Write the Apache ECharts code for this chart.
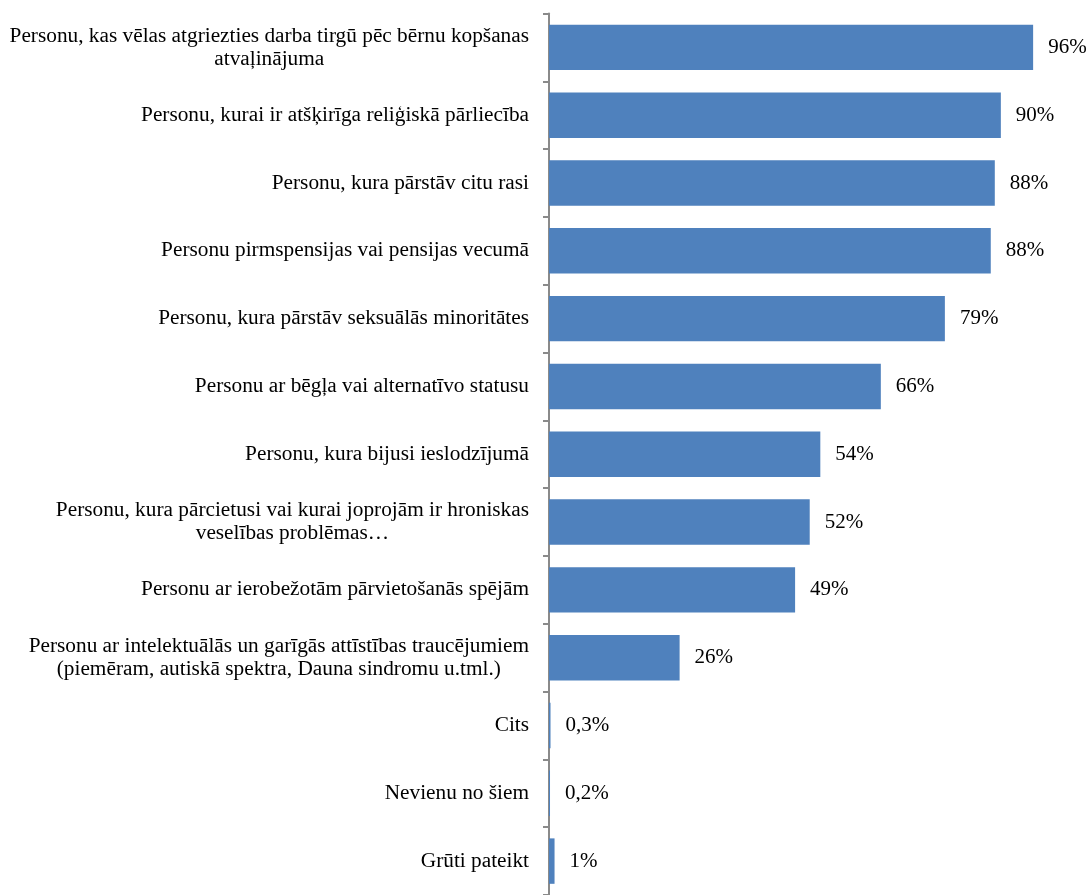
<!DOCTYPE html>
<html>
<head>
<meta charset="utf-8">
<script src="https://cdn.jsdelivr.net/npm/echarts@6/dist/echarts.min.js"></script>
<style>
html,body{margin:0;padding:0;background:#fff;}
#chart{width:1088px;height:895px;}
</style>
</head>
<body>
<div id="chart"></div>
<script>
const categories = [
  'Personu, kas vēlas atgriezties darba tirgū pēc bērnu kopšanas\natvaļinājuma',
  'Personu, kurai ir atšķirīga reliģiskā pārliecība',
  'Personu, kura pārstāv citu rasi',
  'Personu pirmspensijas vai pensijas vecumā',
  'Personu, kura pārstāv seksuālās minoritātes',
  'Personu ar bēgļa vai alternatīvo statusu',
  'Personu, kura bijusi ieslodzījumā',
  'Personu, kura pārcietusi vai kurai joprojām ir hroniskas\nveselības problēmas…',
  'Personu ar ierobežotām pārvietošanās spējām',
  'Personu ar intelektuālās un garīgās attīstības traucējumiem\n(piemēram, autiskā spektra, Dauna sindromu u.tml.)',
  'Cits',
  'Nevienu no šiem',
  'Grūti pateikt'
];
const values = [96.0, 89.6, 88.4, 87.6, 78.5, 65.8, 53.8, 51.7, 48.8, 25.9, 0.3, 0.2, 1.1];
const valueLabels = ['96%', '90%', '88%', '88%', '79%', '66%', '54%', '52%', '49%', '26%', '0,3%', '0,2%', '1%'];

const FONT = '"Liberation Serif", "Times New Roman", serif';
const chart = echarts.init(document.getElementById('chart'));
chart.setOption({
  backgroundColor: '#ffffff',
  animation: false,
  grid: { left: 549, right: 34.7, top: 13.5, bottom: -6.5, containLabel: false },
  xAxis: {
    type: 'value', min: 0, max: 100,
    show: false
  },
  yAxis: {
    type: 'category',
    inverse: true,
    data: categories,
    axisLine: { show: true, lineStyle: { color: '#8a8a8a', width: 2 } },
    axisTick: { show: true, length: 6, lineStyle: { color: '#8a8a8a', width: 2 } },
    axisLabel: {
      margin: 20,
      color: '#000',
      fontFamily: FONT,
      fontSize: 21.3,
      lineHeight: 23,
      formatter: function (v) {
        return v.split('\n').map(function (l) { return '{c|' + l + '}'; }).join('\n');
      },
      rich: {
        c: { align: 'center', fontFamily: FONT, fontSize: 21.3, lineHeight: 23, color: '#000' }
      }
    },
    splitLine: { show: false }
  },
  series: [{
    type: 'bar',
    data: values,
    barCategoryGap: '33%',
    itemStyle: { color: '#4F81BD' },
    label: {
      show: true,
      position: 'right',
      distance: 15,
      color: '#000',
      fontFamily: FONT,
      fontSize: 21,
      formatter: function (p) { return valueLabels[p.dataIndex]; }
    }
  }]
});
</script>
</body>
</html>
